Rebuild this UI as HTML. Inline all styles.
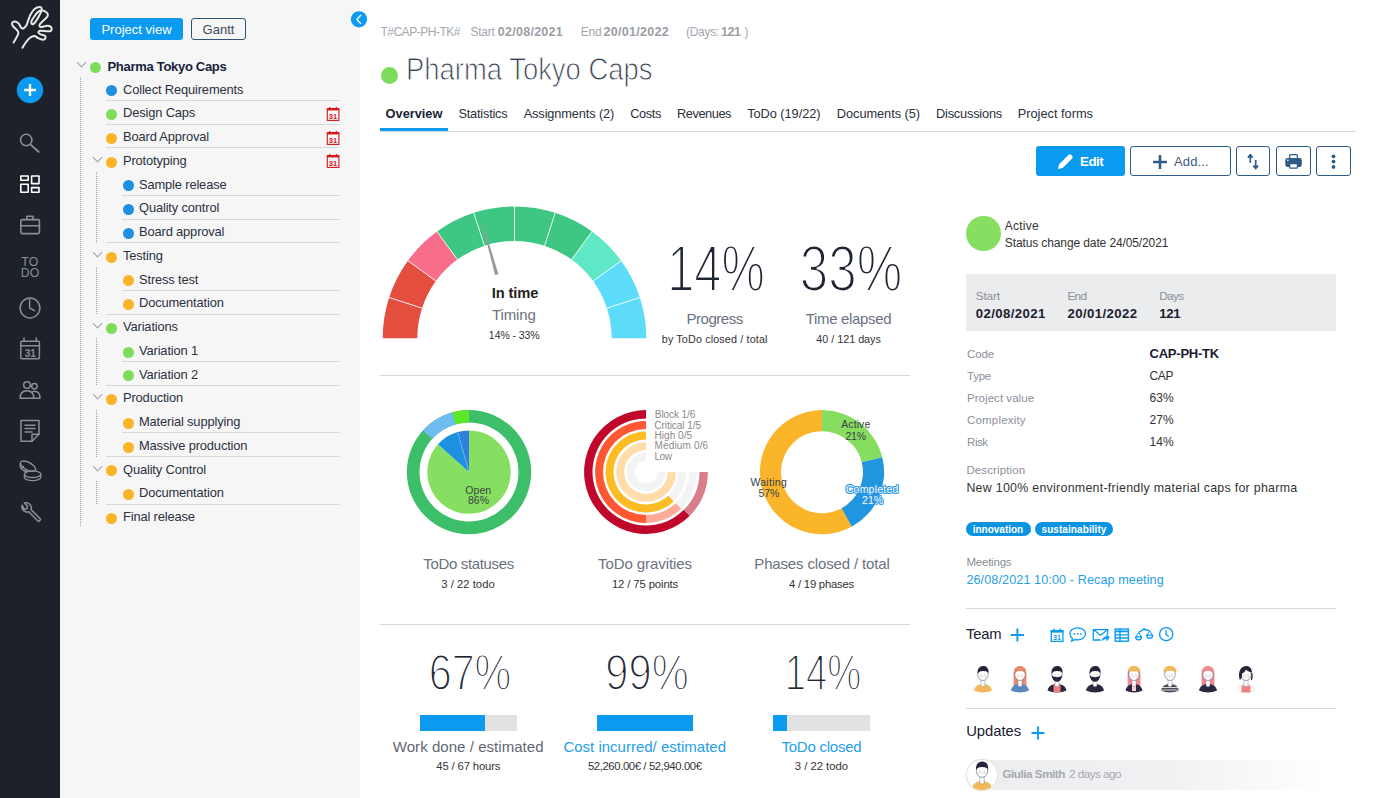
<!DOCTYPE html><html><head><meta charset="utf-8"><style>
*{box-sizing:border-box;margin:0;padding:0}
html,body{width:1376px;height:798px;overflow:hidden;background:#fff;font-family:"Liberation Sans",sans-serif;color:#333}
.a{position:absolute;white-space:nowrap;line-height:1}
#side{position:absolute;left:0;top:0;width:60px;height:798px;background:#1c212a}
#tree{position:absolute;left:60px;top:0;width:300px;height:798px;background:#f6f6f6}
.row{position:absolute;font-size:12.6px;color:#2b3140;line-height:1;white-space:nowrap}
.dot{position:absolute;width:11px;height:11px;border-radius:50%}
.g{background:#7ddc5a}.b{background:#1f8fe0}.o{background:#fbb327}
.sep{position:absolute;height:1px;background:#d9d9d9}
.chev{position:absolute;width:7px;height:7px;border-right:1.2px solid #9aa1ad;border-bottom:1.2px solid #9aa1ad;transform:rotate(45deg)}
.vdot{position:absolute;width:1px;background-image:linear-gradient(#a0a0a0 50%,transparent 50%);background-size:1px 2px}
</style></head><body><div id="side"></div><div id="tree"></div>
<div class="chev" style="left:77.5px;top:59.3px"></div>
<div class="dot g" style="left:90.3px;top:62.4px"></div>
<div class="row" style="left:107.5px;top:60.3px;font-weight:700;font-size:13px;letter-spacing:-0.3px;color:#16223a">Pharma Tokyo Caps</div>
<div class="vdot" style="left:80px;top:77px;height:450px"></div>
<div class="dot b" style="left:106.10px;top:85.30px"></div>
<div class="row" style="left:123px;top:83.58px;font-size:12.9px;letter-spacing:-0.15px">Collect Requirements</div>
<div class="sep" style="left:106px;top:99.90px;width:234px"></div>
<div class="dot g" style="left:106.10px;top:109.05px"></div>
<div class="row" style="left:123px;top:107.33px;font-size:12.9px;letter-spacing:-0.15px">Design Caps</div>
<div class="sep" style="left:106px;top:123.65px;width:234px"></div>
<svg class="a" style="left:325.5px;top:105.95px" width="14" height="16" viewBox="0 0 14 16"><rect x="1.3" y="2.6" width="11.6" height="11.8" fill="none" stroke="#d8141c" stroke-width="1.1"/><rect x="1.3" y="2.4" width="11.6" height="2" fill="#d8141c"/><rect x="3.2" y="1" width="1.2" height="2" fill="#d8141c"/><rect x="9.8" y="1" width="1.2" height="2" fill="#d8141c"/><text x="7.1" y="12.6" font-size="7.6" font-weight="700" text-anchor="middle" fill="#d8141c" font-family="Liberation Sans">31</text></svg>
<div class="dot o" style="left:106.10px;top:132.80px"></div>
<div class="row" style="left:123px;top:131.08px;font-size:12.9px;letter-spacing:-0.15px">Board Approval</div>
<div class="sep" style="left:106px;top:147.40px;width:234px"></div>
<svg class="a" style="left:325.5px;top:129.70000000000002px" width="14" height="16" viewBox="0 0 14 16"><rect x="1.3" y="2.6" width="11.6" height="11.8" fill="none" stroke="#d8141c" stroke-width="1.1"/><rect x="1.3" y="2.4" width="11.6" height="2" fill="#d8141c"/><rect x="3.2" y="1" width="1.2" height="2" fill="#d8141c"/><rect x="9.8" y="1" width="1.2" height="2" fill="#d8141c"/><text x="7.1" y="12.6" font-size="7.6" font-weight="700" text-anchor="middle" fill="#d8141c" font-family="Liberation Sans">31</text></svg>
<div class="dot o" style="left:106.10px;top:156.55px"></div>
<div class="row" style="left:123px;top:154.83px;font-size:12.9px;letter-spacing:-0.15px">Prototyping</div>
<div class="chev" style="left:93.5px;top:153.95px"></div>
<div class="vdot" style="left:96px;top:172.15px;height:71.75px"></div>
<svg class="a" style="left:325.5px;top:153.45000000000002px" width="14" height="16" viewBox="0 0 14 16"><rect x="1.3" y="2.6" width="11.6" height="11.8" fill="none" stroke="#d8141c" stroke-width="1.1"/><rect x="1.3" y="2.4" width="11.6" height="2" fill="#d8141c"/><rect x="3.2" y="1" width="1.2" height="2" fill="#d8141c"/><rect x="9.8" y="1" width="1.2" height="2" fill="#d8141c"/><text x="7.1" y="12.6" font-size="7.6" font-weight="700" text-anchor="middle" fill="#d8141c" font-family="Liberation Sans">31</text></svg>
<div class="dot b" style="left:122.60px;top:180.30px"></div>
<div class="row" style="left:139px;top:178.58px;font-size:12.9px;letter-spacing:-0.15px">Sample release</div>
<div class="sep" style="left:122px;top:194.90px;width:218px"></div>
<div class="dot b" style="left:122.60px;top:204.05px"></div>
<div class="row" style="left:139px;top:202.33px;font-size:12.9px;letter-spacing:-0.15px">Quality control</div>
<div class="sep" style="left:122px;top:218.65px;width:218px"></div>
<div class="dot b" style="left:122.60px;top:227.80px"></div>
<div class="row" style="left:139px;top:226.08px;font-size:12.9px;letter-spacing:-0.15px">Board approval</div>
<div class="sep" style="left:106px;top:242.40px;width:234px"></div>
<div class="dot o" style="left:106.10px;top:251.55px"></div>
<div class="row" style="left:123px;top:249.83px;font-size:12.9px;letter-spacing:-0.15px">Testing</div>
<div class="chev" style="left:93.5px;top:248.95px"></div>
<div class="vdot" style="left:96px;top:267.15px;height:48.00px"></div>
<div class="dot o" style="left:122.60px;top:275.30px"></div>
<div class="row" style="left:139px;top:273.58px;font-size:12.9px;letter-spacing:-0.15px">Stress test</div>
<div class="sep" style="left:122px;top:289.90px;width:218px"></div>
<div class="dot o" style="left:122.60px;top:299.05px"></div>
<div class="row" style="left:139px;top:297.33px;font-size:12.9px;letter-spacing:-0.15px">Documentation</div>
<div class="sep" style="left:106px;top:313.65px;width:234px"></div>
<div class="dot g" style="left:106.10px;top:322.80px"></div>
<div class="row" style="left:123px;top:321.08px;font-size:12.9px;letter-spacing:-0.15px">Variations</div>
<div class="chev" style="left:93.5px;top:320.20px"></div>
<div class="vdot" style="left:96px;top:338.40px;height:48.00px"></div>
<div class="dot g" style="left:122.60px;top:346.55px"></div>
<div class="row" style="left:139px;top:344.83px;font-size:12.9px;letter-spacing:-0.15px">Variation 1</div>
<div class="sep" style="left:122px;top:361.15px;width:218px"></div>
<div class="dot g" style="left:122.60px;top:370.30px"></div>
<div class="row" style="left:139px;top:368.58px;font-size:12.9px;letter-spacing:-0.15px">Variation 2</div>
<div class="sep" style="left:106px;top:384.90px;width:234px"></div>
<div class="dot o" style="left:106.10px;top:394.05px"></div>
<div class="row" style="left:123px;top:392.33px;font-size:12.9px;letter-spacing:-0.15px">Production</div>
<div class="chev" style="left:93.5px;top:391.45px"></div>
<div class="vdot" style="left:96px;top:409.65px;height:48.00px"></div>
<div class="dot o" style="left:122.60px;top:417.80px"></div>
<div class="row" style="left:139px;top:416.08px;font-size:12.9px;letter-spacing:-0.15px">Material supplying</div>
<div class="sep" style="left:122px;top:432.40px;width:218px"></div>
<div class="dot o" style="left:122.60px;top:441.55px"></div>
<div class="row" style="left:139px;top:439.83px;font-size:12.9px;letter-spacing:-0.15px">Massive production</div>
<div class="sep" style="left:106px;top:456.15px;width:234px"></div>
<div class="dot o" style="left:106.10px;top:465.30px"></div>
<div class="row" style="left:123px;top:463.58px;font-size:12.9px;letter-spacing:-0.15px">Quality Control</div>
<div class="chev" style="left:93.5px;top:462.70px"></div>
<div class="vdot" style="left:96px;top:480.90px;height:24.25px"></div>
<div class="dot o" style="left:122.60px;top:489.05px"></div>
<div class="row" style="left:139px;top:487.33px;font-size:12.9px;letter-spacing:-0.15px">Documentation</div>
<div class="sep" style="left:106px;top:503.65px;width:234px"></div>
<div class="dot o" style="left:106.10px;top:512.80px"></div>
<div class="row" style="left:123px;top:511.08px;font-size:12.9px;letter-spacing:-0.15px">Final release</div>
<div class="a" style="left:90px;top:18px;width:93px;height:22px;background:#0a9bf0;border-radius:3px;color:#fff;font-size:13px;line-height:23.6px;text-align:center">Project view</div>
<div class="a" style="left:191px;top:18px;width:55px;height:22px;border:1px solid #2e5479;border-radius:3px;color:#3f4a5c;font-size:13px;line-height:21.6px;text-align:center">Gantt</div>
<svg class="a" style="left:0;top:0" width="60" height="798" viewBox="0 0 60 798" fill="none" stroke-linecap="round" stroke-linejoin="round"><path d="M13.60,42.50 C14.37,41.08 17.57,35.98 18.20,34.00 C18.83,32.02 18.30,31.95 17.40,30.60 C16.50,29.25 13.67,27.20 12.80,25.90 C11.93,24.60 11.83,23.55 12.20,22.80 C12.57,22.05 13.93,21.30 15.00,21.40 C16.07,21.50 17.60,22.37 18.60,23.40 C19.60,24.43 20.22,26.75 21.00,27.60 C21.78,28.45 22.42,28.83 23.30,28.50 C24.18,28.17 25.45,27.05 26.30,25.60 C27.15,24.15 27.67,21.70 28.40,19.80 C29.13,17.90 29.67,16.00 30.70,14.20 C31.73,12.40 33.08,10.18 34.60,9.00 C36.12,7.82 38.62,7.17 39.80,7.10 C40.98,7.03 41.50,7.78 41.70,8.60 C41.90,9.42 41.53,10.60 41.00,12.00 C40.47,13.40 39.33,15.50 38.50,17.00 C37.67,18.50 36.75,19.90 36.00,21.00 C35.25,22.10 34.60,23.07 34.00,23.60 C33.40,24.13 32.85,24.30 32.40,24.20 C31.95,24.10 31.40,23.62 31.30,23.00 C31.20,22.38 31.35,21.50 31.80,20.50 C32.25,19.50 33.22,18.17 34.00,17.00 C34.78,15.83 35.58,14.50 36.50,13.50 C37.42,12.50 38.50,11.48 39.50,11.00 C40.50,10.52 41.53,10.50 42.50,10.60 C43.47,10.70 44.45,11.10 45.30,11.60 C46.15,12.10 47.23,12.80 47.60,13.60 C47.97,14.40 47.87,15.55 47.50,16.40 C47.13,17.25 46.22,17.87 45.40,18.70 C44.58,19.53 43.52,20.48 42.60,21.40 C41.68,22.32 40.40,23.40 39.90,24.20 C39.40,25.00 39.33,25.73 39.60,26.20 C39.87,26.67 40.25,27.07 41.50,27.00 C42.75,26.93 45.50,25.80 47.10,25.80 C48.70,25.80 50.35,26.37 51.10,27.00 C51.85,27.63 51.73,28.90 51.60,29.60 C51.47,30.30 51.08,30.92 50.30,31.20 C49.52,31.48 48.62,31.38 46.90,31.30 C45.18,31.22 41.42,30.50 40.00,30.70 C38.58,30.90 38.30,31.88 38.40,32.50 C38.50,33.12 39.50,33.87 40.60,34.40 C41.70,34.93 44.22,35.02 45.00,35.70 C45.78,36.38 45.67,37.83 45.30,38.50 C44.93,39.17 44.00,39.75 42.80,39.70 C41.60,39.65 39.48,38.82 38.10,38.20 C36.72,37.58 35.85,36.08 34.50,36.00 C33.15,35.92 31.38,36.70 30.00,37.70 C28.62,38.70 27.47,40.33 26.20,42.00 C24.93,43.67 23.03,46.75 22.40,47.70" stroke="#e8e8e8" stroke-width="2"/><circle cx="30" cy="90" r="13.2" fill="#0a9bf0" stroke="none"/><path d="M30 84v12M24 90h12" stroke="#fff" stroke-width="2.4" stroke-linecap="butt"/><circle cx="26.2" cy="140" r="5.7" stroke="#8b8e94" stroke-width="1.6"/><path d="M30.3 144.3L38.8 152" stroke="#8b8e94" stroke-width="1.8"/><g stroke="#fff" stroke-width="1.6"><rect x="20.8" y="176" width="7.4" height="4.2"/><rect x="20.8" y="184.2" width="7.4" height="8"/><rect x="31.6" y="176" width="7.4" height="7.6"/><rect x="31.6" y="187.6" width="7.4" height="4.6"/></g><g stroke="#8b8e94" stroke-width="1.6"><rect x="20.8" y="219.6" width="18.6" height="14" rx="1.5"/><path d="M20.8 225.7H39.4M26.8 219.6v-3.4h6.2v3.4"/></g><text x="29.8" y="265.8" font-size="12.3" text-anchor="middle" fill="#8b8e94" stroke="none" font-family="Liberation Sans">TO</text><text x="30" y="277.4" font-size="12.3" text-anchor="middle" fill="#8b8e94" stroke="none" font-family="Liberation Sans">DO</text><g stroke="#8b8e94" stroke-width="1.5"><circle cx="30" cy="308" r="9.9"/><path d="M29.6 299.6v8.4l5 2.6"/></g><g stroke="#8b8e94" stroke-width="1.5"><rect x="20.8" y="341.2" width="18.6" height="17.6" rx="1"/><path d="M20.8 345.8H39.4M24 338v3.5M36.2 338v3.5"/></g><text x="30.3" y="356.5" font-size="10" font-weight="700" text-anchor="middle" fill="#8b8e94" stroke="none" font-family="Liberation Sans">31</text><g stroke="#8b8e94" stroke-width="1.5"><circle cx="27" cy="385" r="3.3"/><path d="M20.2 398.2c0-5 3-7.4 6.8-7.4s6.8 2.4 6.8 7.4z"/><circle cx="34.4" cy="386.3" r="2.7"/><path d="M32.6 391.6c.6-.2 1.2-.3 1.8-.3 3.2 0 5.6 2 5.6 6.9h-6"/></g><g stroke="#8b8e94" stroke-width="1.5"><path d="M21 420.6h18v13.6l-7 7H21z"/><path d="M39 434.2h-7v7"/><path d="M25 425.2h10M25 428.6h10M25 432h7"/></g><g stroke="#8b8e94" stroke-width="1.4"><ellipse cx="28" cy="466.2" rx="8.4" ry="3.8" transform="rotate(28 28 466.2)"/><path d="M20.2 463.8c-1 3.2 2 6.4 6.6 8.6M25 471.5l1.2-1.6M22 468l1.4-1.4"/><ellipse cx="32.6" cy="474.2" rx="8.2" ry="3.3"/><path d="M24.4 474.2v3c0 1.9 3.7 3.4 8.2 3.4s8.2-1.5 8.2-3.4v-3"/></g><path d="M22.2 505.2a5.2 5.2 0 0 0 6.6 6.6l8.6 8.8a1.6 1.6 0 0 0 2.4-2.4l-8.8-8.6a5.2 5.2 0 0 0-6.6-6.6l3.2 3.2-.6 2.6-2.6.6z" stroke="#8b8e94" stroke-width="1.5"/></svg>
<svg class="a" style="left:350px;top:10px" width="18" height="18" viewBox="350 10 18 18"><circle cx="359" cy="19.35" r="8.15" fill="#0a9bf0"/><path d="M360.7 15.2L356.8 19.4 360.7 23.6" fill="none" stroke="#fff" stroke-width="1.4" stroke-linecap="round" stroke-linejoin="round"/></svg>
<div class="a" style="left:380.4px;top:25.74px;font-size:12px;color:#a3a7ae;font-weight:400;letter-spacing:-0.48px;">T#CAP-PH-TK#</div>
<div class="a" style="left:470.4px;top:25.74px;font-size:12px;color:#a3a7ae;font-weight:400;letter-spacing:-0.2px;">Start</div>
<div class="a" style="left:497.8px;top:26.12px;font-size:12.5px;color:#9a9ea5;font-weight:700;letter-spacing:0.264px;">02/08/2021</div>
<div class="a" style="left:580.7px;top:25.74px;font-size:12px;color:#a3a7ae;font-weight:400;letter-spacing:-0.2px;">End</div>
<div class="a" style="left:603.5px;top:26.12px;font-size:12.5px;color:#9a9ea5;font-weight:700;letter-spacing:0.294px;">20/01/2022</div>
<div class="a" style="left:686px;top:25.74px;font-size:12px;color:#a3a7ae;font-weight:400;letter-spacing:-0.3px;">(Days:</div>
<div class="a" style="left:721px;top:26.12px;font-size:12.5px;color:#9a9ea5;font-weight:700;letter-spacing:-0.453px;">121</div>
<div class="a" style="left:744.5px;top:25.74px;font-size:12px;color:#a3a7ae;font-weight:400;">)</div>
<div class="a" style="left:380.5px;top:66.6px;width:17.4px;height:17.4px;border-radius:50%;background:#7ddc5a"></div>
<div class="a" style="left:405.6px;top:54.06px;font-size:31px;color:#3b4252;font-weight:400;transform:scaleX(0.8849);transform-origin:0 0;-webkit-text-stroke:0.9px #fff;">Pharma Tokyo Caps</div>
<div class="a" style="left:385.6px;top:107.86px;font-size:12.8px;color:#1b2333;font-weight:700;letter-spacing:-0.015px;">Overview</div>
<div class="a" style="left:458.4px;top:107.86px;font-size:12.8px;color:#2a303c;font-weight:400;letter-spacing:-0.21px;">Statistics</div>
<div class="a" style="left:523.7px;top:107.86px;font-size:12.8px;color:#2a303c;font-weight:400;letter-spacing:-0.13px;">Assignments (2)</div>
<div class="a" style="left:630.2px;top:107.86px;font-size:12.8px;color:#2a303c;font-weight:400;letter-spacing:-0.384px;">Costs</div>
<div class="a" style="left:677px;top:107.86px;font-size:12.8px;color:#2a303c;font-weight:400;letter-spacing:-0.453px;">Revenues</div>
<div class="a" style="left:747.2px;top:107.86px;font-size:12.8px;color:#2a303c;font-weight:400;letter-spacing:-0.057px;">ToDo (19/22)</div>
<div class="a" style="left:836.8px;top:107.86px;font-size:12.8px;color:#2a303c;font-weight:400;letter-spacing:-0.056px;">Documents (5)</div>
<div class="a" style="left:936px;top:107.86px;font-size:12.8px;color:#2a303c;font-weight:400;letter-spacing:-0.207px;">Discussions</div>
<div class="a" style="left:1017.7px;top:107.86px;font-size:12.8px;color:#2a303c;font-weight:400;letter-spacing:-0.007px;">Project forms</div>
<div class="a" style="left:380px;top:131px;width:976px;height:1px;background:#d5d8dc"></div>
<div class="a" style="left:380px;top:128px;width:68px;height:3px;background:#0a9bf0"></div>
<div class="a" style="left:1036px;top:146px;width:89px;height:30px;background:#0a9bf0;border-radius:3px"></div>
<svg class="a" style="left:1057px;top:153px" width="17" height="17" viewBox="0 0 17 17"><path d="M1 16l1-4.6L11.6 1.8a1.6 1.6 0 0 1 2.3 0l1.3 1.3a1.6 1.6 0 0 1 0 2.3L5.6 15z" fill="#fff"/></svg>
<div class="a" style="left:1080px;top:154.64px;font-size:13.3px;color:#fff;font-weight:700;letter-spacing:-0.481px;">Edit</div>
<div class="a" style="left:1130.2px;top:146px;width:100.5px;height:30px;border:1px solid #2f5b88;border-radius:3px"></div>
<div class="a" style="left:1236.2px;top:146px;width:34.3px;height:30px;border:1px solid #2f5b88;border-radius:3px"></div>
<div class="a" style="left:1276.3px;top:146px;width:34.3px;height:30px;border:1px solid #2f5b88;border-radius:3px"></div>
<div class="a" style="left:1316px;top:146px;width:34.6px;height:30px;border:1px solid #2f5b88;border-radius:3px"></div>
<svg class="a" style="left:1152px;top:154px" width="16" height="16" viewBox="0 0 16 16"><path d="M8 1v14M1 8h14" stroke="#2f5b88" stroke-width="2.6"/></svg>
<div class="a" style="left:1174px;top:154.90px;font-size:13px;color:#3a5a82;font-weight:400;letter-spacing:0.139px;">Add...</div>
<svg class="a" style="left:1244px;top:150px" width="16" height="22" viewBox="1244 150 16 22"><path d="M1250.3 162.8V155.4M1247.9 157.6l2.4-2.8 2.4 2.8M1255.7 160v8M1253.3 165.6l2.4 2.8 2.4-2.8" fill="none" stroke="#2f5b88" stroke-width="1.7"/></svg>
<svg class="a" style="left:1282px;top:150px" width="22" height="22" viewBox="1282 150 22 22"><rect x="1289.6" y="154.6" width="7.8" height="5" rx="1.2" fill="#fff" stroke="#2f5b88" stroke-width="1.3"/><rect x="1285.3" y="158" width="16.5" height="9" rx="2.2" fill="#2f5b88"/><rect x="1289.6" y="163.6" width="7.8" height="4.6" rx="1" fill="#fff" stroke="#2f5b88" stroke-width="1.3"/><rect x="1287" y="159.6" width="1.6" height="1.2" fill="#fff"/></svg>
<svg class="a" style="left:1330px;top:153px" width="7" height="17" viewBox="0 0 7 17"><circle cx="3.5" cy="3.3" r="1.9" fill="#2f5b88"/><circle cx="3.5" cy="8.6" r="1.9" fill="#2f5b88"/><circle cx="3.5" cy="13.9" r="1.9" fill="#2f5b88"/></svg>
<svg class="a" style="left:0;top:0" width="1376" height="798" viewBox="0 0 1376 798"><path d="M382.70,338.20 A131.8,131.8 0 0 1 389.15,297.47 L422.06,308.16 A97.2,97.2 0 0 0 417.30,338.20Z" fill="#e34e3f" /><path d="M389.15,297.47 A131.8,131.8 0 0 1 407.87,260.73 L435.86,281.07 A97.2,97.2 0 0 0 422.06,308.16Z" fill="#e34e3f" /><path d="M407.87,260.73 A131.8,131.8 0 0 1 437.03,231.57 L457.37,259.56 A97.2,97.2 0 0 0 435.86,281.07Z" fill="#f76d8a" /><path d="M437.03,231.57 A131.8,131.8 0 0 1 473.77,212.85 L484.46,245.76 A97.2,97.2 0 0 0 457.37,259.56Z" fill="#3ec683" /><path d="M473.77,212.85 A131.8,131.8 0 0 1 514.50,206.40 L514.50,241.00 A97.2,97.2 0 0 0 484.46,245.76Z" fill="#3ec683" /><path d="M514.50,206.40 A131.8,131.8 0 0 1 555.23,212.85 L544.54,245.76 A97.2,97.2 0 0 0 514.50,241.00Z" fill="#3ec683" /><path d="M555.23,212.85 A131.8,131.8 0 0 1 591.97,231.57 L571.63,259.56 A97.2,97.2 0 0 0 544.54,245.76Z" fill="#3ec683" /><path d="M591.97,231.57 A131.8,131.8 0 0 1 621.13,260.73 L593.14,281.07 A97.2,97.2 0 0 0 571.63,259.56Z" fill="#5fe8c5" /><path d="M621.13,260.73 A131.8,131.8 0 0 1 639.85,297.47 L606.94,308.16 A97.2,97.2 0 0 0 593.14,281.07Z" fill="#5ddcf9" /><path d="M639.85,297.47 A131.8,131.8 0 0 1 646.30,338.20 L611.70,338.20 A97.2,97.2 0 0 0 606.94,308.16Z" fill="#5ddcf9" /><line x1="422.06" y1="308.16" x2="388.20" y2="297.16" stroke="#fff" stroke-width="1" stroke-opacity="0.85"/><line x1="435.86" y1="281.07" x2="407.06" y2="260.14" stroke="#fff" stroke-width="1" stroke-opacity="0.85"/><line x1="457.37" y1="259.56" x2="436.44" y2="230.76" stroke="#fff" stroke-width="1" stroke-opacity="0.85"/><line x1="484.46" y1="245.76" x2="473.46" y2="211.90" stroke="#fff" stroke-width="1" stroke-opacity="0.85"/><line x1="514.50" y1="241.00" x2="514.50" y2="205.40" stroke="#fff" stroke-width="1" stroke-opacity="0.85"/><line x1="544.54" y1="245.76" x2="555.54" y2="211.90" stroke="#fff" stroke-width="1" stroke-opacity="0.85"/><line x1="571.63" y1="259.56" x2="592.56" y2="230.76" stroke="#fff" stroke-width="1" stroke-opacity="0.85"/><line x1="593.14" y1="281.07" x2="621.94" y2="260.14" stroke="#fff" stroke-width="1" stroke-opacity="0.85"/><line x1="606.94" y1="308.16" x2="640.80" y2="297.16" stroke="#fff" stroke-width="1" stroke-opacity="0.85"/><path d="M498.48,274.15 L483.15,224.44 L482.38,224.65 L495.02,275.12Z" fill="#9a9a9a"/></svg>
<div class="a" style="left:315.1px;width:400px;text-align:center;top:286.26px;font-size:14.7px;color:#222;font-weight:700;letter-spacing:-0.106px;text-indent:-0.106px;">In time</div>
<div class="a" style="left:313.9px;width:400px;text-align:center;top:306.80px;font-size:15px;color:#6b7280;font-weight:400;letter-spacing:-0.092px;text-indent:-0.092px;">Timing</div>
<div class="a" style="left:314.29999999999995px;width:400px;text-align:center;top:330.41px;font-size:10.5px;color:#333;font-weight:400;letter-spacing:-0.064px;text-indent:-0.064px;">14% - 33%</div>
<div class="a" style="left:516.2px;width:400px;text-align:center;top:237.12px;font-size:64px;color:#1f2533;font-weight:400;transform:scaleX(0.7612);-webkit-text-stroke:2.2px #fff;">14%</div>
<div class="a" style="left:650.7px;width:400px;text-align:center;top:237.12px;font-size:64px;color:#1f2533;font-weight:400;transform:scaleX(0.8002);-webkit-text-stroke:2.2px #fff;">33%</div>
<div class="a" style="left:514.9px;width:400px;text-align:center;top:311.20px;font-size:15px;color:#6b7280;font-weight:400;letter-spacing:-0.479px;text-indent:-0.479px;">Progress</div>
<div class="a" style="left:514.6px;width:400px;text-align:center;top:334.36px;font-size:10.8px;color:#333;font-weight:400;letter-spacing:0.126px;text-indent:0.126px;">by ToDo closed / total</div>
<div class="a" style="left:648.7px;width:400px;text-align:center;top:311.20px;font-size:15px;color:#6b7280;font-weight:400;letter-spacing:-0.325px;text-indent:-0.325px;">Time elapsed</div>
<div class="a" style="left:648.6px;width:400px;text-align:center;top:334.36px;font-size:10.8px;color:#333;font-weight:400;letter-spacing:-0.019px;text-indent:-0.019px;">40 / 121 days</div>
<div class="a" style="left:380px;top:375px;width:530px;height:1px;background:#d5d8dc"></div>
<svg class="a" style="left:0;top:0" width="1376" height="798" viewBox="0 0 1376 798"><path d="M469.00,409.90 A62.2,62.2 0 0 0 469.00,534.30 L469.00,521.60 A49.5,49.5 0 0 1 469.00,422.60Z" fill="#3dbe68" /><path d="M469.00,534.30 A62.2,62.2 0 0 0 469.00,409.90 L469.00,422.60 A49.5,49.5 0 0 1 469.00,521.60Z" fill="#3dbe68" /><path d="M452.27,412.19 A62.2,62.2 0 0 0 422.85,430.40 L432.27,438.91 A49.5,49.5 0 0 1 455.69,424.42Z" fill="#6fbcf0" /><path d="M469.00,409.90 A62.2,62.2 0 0 0 452.27,412.19 L455.69,424.42 A49.5,49.5 0 0 1 469.00,422.60Z" fill="#5ee82a" /><path d="M469,472.1 L437.91,444.31 A41.7,41.7 0 1 0 469.00,430.40Z" fill="#86df60"/><path d="M469,472.1 L457.65,431.98 A41.7,41.7 0 0 0 437.91,444.31Z" fill="#1e90e0"/><path d="M469,472.1 L469.00,430.40 A41.7,41.7 0 0 0 457.65,431.98Z" fill="#2d7fe0"/><line x1="469" y1="472.1" x2="457.65" y2="431.98" stroke="#fff" stroke-width="0.6" stroke-dasharray="2 1.5" stroke-opacity="0.6"/><path d="M646.00,410.10 A61.9,61.9 0 1 0 707.90,472.00 L699.50,472.00 A53.5,53.5 0 1 1 646.00,418.50Z" fill="#f3f3f3" /><path d="M646.00,421.10 A50.9,50.9 0 1 0 696.90,472.00 L689.00,472.00 A43,43 0 1 1 646.00,429.00Z" fill="#f3f3f3" /><path d="M646.00,431.60 A40.4,40.4 0 1 0 686.40,472.00 L678.50,472.00 A32.5,32.5 0 1 1 646.00,439.50Z" fill="#f3f3f3" /><path d="M646.00,442.20 A29.8,29.8 0 1 0 675.80,472.00 L667.90,472.00 A21.9,21.9 0 1 1 646.00,450.10Z" fill="#f3f3f3" /><path d="M646.00,452.70 A19.3,19.3 0 1 0 665.30,472.00 L657.40,472.00 A11.4,11.4 0 1 1 646.00,460.60Z" fill="#f3f3f3" /><path d="M646.00,410.10 A61.9,61.9 0 1 0 689.77,515.77 L683.83,509.83 A53.5,53.5 0 1 1 646.00,418.50Z" fill="#c0062a" /><path d="M689.77,515.77 A61.9,61.9 0 0 0 707.90,472.00 L699.50,472.00 A53.5,53.5 0 0 1 683.83,509.83Z" fill="#dc7d8c" /><path d="M646.00,421.10 A50.9,50.9 0 0 0 646.00,522.90 L646.00,515.00 A43,43 0 0 1 646.00,429.00Z" fill="#ff5733" /><path d="M646.00,522.90 A50.9,50.9 0 0 0 681.10,508.86 L675.65,503.14 A43,43 0 0 1 646.00,515.00Z" fill="#ffaa99" /><path d="M646.00,431.60 A40.4,40.4 0 1 0 673.66,501.45 L668.25,495.69 A32.5,32.5 0 1 1 646.00,439.50Z" fill="#fbbd23" /><path d="M646.00,442.20 A29.8,29.8 0 1 0 675.80,472.00 L667.90,472.00 A21.9,21.9 0 1 1 646.00,450.10Z" fill="#ffdca8" /><path d="M822.00,410.10 A62.1,62.1 0 0 1 882.26,457.18 L861.78,462.28 A41,41 0 0 0 822.00,431.20Z" fill="#86dd60" /><path d="M882.26,457.18 A62.1,62.1 0 0 1 851.54,526.83 L841.50,508.27 A41,41 0 0 0 861.78,462.28Z" fill="#2196e0" /><path d="M851.54,526.83 A62.1,62.1 0 1 1 822.00,410.10 L822.00,431.20 A41,41 0 1 0 841.50,508.27Z" fill="#fbb52a" /></svg>
<div class="a" style="left:465.3px;top:484.81px;font-size:10.5px;color:#3a3f47;font-weight:400;letter-spacing:0.053px;">Open</div>
<div class="a" style="left:468px;top:495.31px;font-size:10.5px;color:#3a3f47;font-weight:400;letter-spacing:-0.005px;">86%</div>
<div class="a" style="left:654.8px;top:409.74px;font-size:10px;color:#8a8a8a;font-weight:400;letter-spacing:-0.082px;">Block 1/6</div>
<div class="a" style="left:654.3px;top:420.84px;font-size:10px;color:#8a8a8a;font-weight:400;letter-spacing:-0.046px;">Critical 1/5</div>
<div class="a" style="left:654.5px;top:430.84px;font-size:10px;color:#8a8a8a;font-weight:400;letter-spacing:0.056px;">High 0/5</div>
<div class="a" style="left:654.5px;top:440.84px;font-size:10px;color:#8a8a8a;font-weight:400;letter-spacing:0.155px;">Medium 0/6</div>
<div class="a" style="left:654.5px;top:451.54px;font-size:10px;color:#8a8a8a;font-weight:400;letter-spacing:-0.453px;">Low</div>
<div class="a" style="left:841.3px;top:419.41px;font-size:10.5px;color:#3a3f47;font-weight:400;letter-spacing:0.068px;">Active</div>
<div class="a" style="left:845.4px;top:430.51px;font-size:10.5px;color:#3a3f47;font-weight:400;letter-spacing:-0.205px;">21%</div>
<div class="a" style="left:750.4px;top:476.61px;font-size:10.5px;color:#3a3f47;font-weight:400;letter-spacing:0.296px;">Waiting</div>
<div class="a" style="left:758.6px;top:487.51px;font-size:10.5px;color:#3a3f47;font-weight:400;letter-spacing:-0.172px;">57%</div>
<div class="a" style="left:845.8px;top:483.81px;font-size:10.5px;color:#f4faff;font-weight:400;letter-spacing:0.213px;text-shadow:1px 0 0.5px #2f9ae6,-1px 0 0.5px #2f9ae6,0 1px 0.5px #2f9ae6,0 -1px 0.5px #2f9ae6,0.7px 0.7px 0.5px #2f9ae6,-0.7px -0.7px 0.5px #2f9ae6,0.7px -0.7px 0.5px #2f9ae6,-0.7px 0.7px 0.5px #2f9ae6;">Completed</div>
<div class="a" style="left:862.1px;top:494.71px;font-size:10.5px;color:#f4faff;font-weight:400;letter-spacing:-0.039px;text-shadow:1px 0 0.5px #2f9ae6,-1px 0 0.5px #2f9ae6,0 1px 0.5px #2f9ae6,0 -1px 0.5px #2f9ae6,0.7px 0.7px 0.5px #2f9ae6,-0.7px -0.7px 0.5px #2f9ae6,0.7px -0.7px 0.5px #2f9ae6,-0.7px 0.7px 0.5px #2f9ae6;">21%</div>
<div class="a" style="left:268.75px;width:400px;text-align:center;top:556.40px;font-size:15px;color:#6b7280;font-weight:400;letter-spacing:-0.35px;text-indent:-0.35px;">ToDo statuses</div>
<div class="a" style="left:268px;width:400px;text-align:center;top:578.63px;font-size:11.3px;color:#333;font-weight:400;letter-spacing:0.01px;text-indent:0.01px;">3 / 22 todo</div>
<div class="a" style="left:445px;width:400px;text-align:center;top:556.40px;font-size:15px;color:#6b7280;font-weight:400;letter-spacing:-0.075px;text-indent:-0.075px;">ToDo gravities</div>
<div class="a" style="left:445.1px;width:400px;text-align:center;top:578.63px;font-size:11.3px;color:#333;font-weight:400;letter-spacing:-0.117px;text-indent:-0.117px;">12 / 75 points</div>
<div class="a" style="left:622px;width:400px;text-align:center;top:556.40px;font-size:15px;color:#6b7280;font-weight:400;letter-spacing:-0.149px;text-indent:-0.149px;">Phases closed / total</div>
<div class="a" style="left:621.6px;width:400px;text-align:center;top:578.63px;font-size:11.3px;color:#333;font-weight:400;letter-spacing:-0.234px;text-indent:-0.234px;">4 / 19 phases</div>
<div class="a" style="left:380px;top:624px;width:530px;height:1px;background:#d5d8dc"></div>
<div class="a" style="left:269.75px;width:400px;text-align:center;top:648.10px;font-size:49.5px;color:#1f2533;font-weight:400;transform:scaleX(0.8337);-webkit-text-stroke:1.8px #fff;">67%</div>
<div class="a" style="left:446.85px;width:400px;text-align:center;top:648.40px;font-size:49.5px;color:#1f2533;font-weight:400;transform:scaleX(0.8408);-webkit-text-stroke:1.8px #fff;">99%</div>
<div class="a" style="left:622.7px;width:400px;text-align:center;top:648.40px;font-size:49.5px;color:#1f2533;font-weight:400;transform:scaleX(0.7711);-webkit-text-stroke:1.8px #fff;">14%</div>
<div class="a" style="left:419.9px;top:715px;width:97.0px;height:15.8px;background:#e2e2e2"></div>
<div class="a" style="left:419.9px;top:715px;width:65.1px;height:15.8px;background:#0a9bf0"></div>
<div class="a" style="left:597px;top:715px;width:95.9px;height:15.8px;background:#e2e2e2"></div>
<div class="a" style="left:597px;top:715px;width:95.9px;height:15.8px;background:#0a9bf0"></div>
<div class="a" style="left:772.7px;top:715px;width:97.2px;height:15.8px;background:#e2e2e2"></div>
<div class="a" style="left:772.7px;top:715px;width:14.4px;height:15.8px;background:#0a9bf0"></div>
<div class="a" style="left:268.2px;width:400px;text-align:center;top:738.80px;font-size:15px;color:#5f6673;font-weight:400;letter-spacing:0.048px;text-indent:0.048px;">Work done / estimated</div>
<div class="a" style="left:268.4px;width:400px;text-align:center;top:761.13px;font-size:11.3px;color:#333;font-weight:400;letter-spacing:-0.15px;text-indent:-0.15px;">45 / 67 hours</div>
<div class="a" style="left:444.70000000000005px;width:400px;text-align:center;top:738.80px;font-size:15px;color:#1fa0e8;font-weight:400;letter-spacing:0.001px;text-indent:0.001px;">Cost incurred/ estimated</div>
<div class="a" style="left:444.95000000000005px;width:400px;text-align:center;top:761.13px;font-size:11.3px;color:#333;font-weight:400;letter-spacing:-0.383px;text-indent:-0.383px;">52,260.00€ / 52,940.00€</div>
<div class="a" style="left:621.55px;width:400px;text-align:center;top:738.80px;font-size:15px;color:#1fa0e8;font-weight:400;letter-spacing:-0.241px;text-indent:-0.241px;">ToDo closed</div>
<div class="a" style="left:621.4px;width:400px;text-align:center;top:761.13px;font-size:11.3px;color:#333;font-weight:400;letter-spacing:-0.017px;text-indent:-0.017px;">3 / 22 todo</div>
<div class="a" style="left:966.1px;top:216.1px;width:34.8px;height:34.8px;border-radius:50%;background:#86df60"></div>
<div class="a" style="left:1004.8px;top:219.84px;font-size:12px;color:#333;font-weight:400;letter-spacing:0.219px;">Active</div>
<div class="a" style="left:1004.8px;top:236.94px;font-size:12px;color:#333;font-weight:400;letter-spacing:-0.114px;">Status change date 24/05/2021</div>
<div class="a" style="left:966px;top:274px;width:370px;height:56.5px;background:#ebecee"></div>
<div class="a" style="left:975.7px;top:290.71px;font-size:11.8px;color:#8a8f98;font-weight:400;letter-spacing:-0.124px;">Start</div>
<div class="a" style="left:975.7px;top:306.93px;font-size:13.2px;color:#1b2030;font-weight:700;letter-spacing:0.418px;">02/08/2021</div>
<div class="a" style="left:1067.4px;top:290.71px;font-size:11.8px;color:#8a8f98;font-weight:400;letter-spacing:-0.7px;">End</div>
<div class="a" style="left:1067.4px;top:306.93px;font-size:13.2px;color:#1b2030;font-weight:700;letter-spacing:0.408px;">20/01/2022</div>
<div class="a" style="left:1159.2px;top:291.21px;font-size:11.8px;color:#8a8f98;font-weight:400;letter-spacing:-0.648px;">Days</div>
<div class="a" style="left:1159.2px;top:307.03px;font-size:13.2px;color:#1b2030;font-weight:700;letter-spacing:-0.339px;">121</div>
<div class="a" style="left:967px;top:348.97px;font-size:11.5px;color:#8a8f98;font-weight:400;letter-spacing:-0.125px;">Code</div>
<div class="a" style="left:1149.5px;top:346.70px;font-size:13px;color:#1b2030;font-weight:700;letter-spacing:-0.222px;">CAP-PH-TK</div>
<div class="a" style="left:967px;top:370.97px;font-size:11.5px;color:#8a8f98;font-weight:400;letter-spacing:-0.234px;">Type</div>
<div class="a" style="left:1149.5px;top:369.74px;font-size:12px;color:#333;font-weight:400;letter-spacing:-0.329px;">CAP</div>
<div class="a" style="left:967px;top:393.07px;font-size:11.5px;color:#8a8f98;font-weight:400;letter-spacing:0.047px;">Project value</div>
<div class="a" style="left:1149.5px;top:391.84px;font-size:12px;color:#333;font-weight:400;letter-spacing:0.09px;">63%</div>
<div class="a" style="left:967px;top:415.17px;font-size:11.5px;color:#8a8f98;font-weight:400;letter-spacing:0.181px;">Complexity</div>
<div class="a" style="left:1149.5px;top:413.94px;font-size:12px;color:#333;font-weight:400;letter-spacing:0.09px;">27%</div>
<div class="a" style="left:967px;top:436.77px;font-size:11.5px;color:#8a8f98;font-weight:400;letter-spacing:-0.419px;">Risk</div>
<div class="a" style="left:1149.5px;top:435.54px;font-size:12px;color:#333;font-weight:400;letter-spacing:0.09px;">14%</div>
<div class="a" style="left:966.4px;top:464.87px;font-size:11.5px;color:#8a8f98;font-weight:400;letter-spacing:0.124px;">Description</div>
<div class="a" style="left:966.4px;top:482.00px;font-size:12.4px;color:#333;font-weight:400;letter-spacing:0.276px;">New 100% environment-friendly material caps for pharma</div>
<div class="a" style="left:966.2px;top:522.3px;width:64.7px;height:13.6px;border-radius:7px;background:#0a93e0"></div>
<div class="a" style="left:1035.3px;top:522.3px;width:77.7px;height:13.6px;border-radius:7px;background:#0a93e0"></div>
<div class="a" style="left:972.7px;top:524.74px;font-size:10px;color:#fff;font-weight:700;letter-spacing:-0.006px;">innovation</div>
<div class="a" style="left:1041.5px;top:524.74px;font-size:10px;color:#fff;font-weight:700;letter-spacing:0.078px;">sustainability</div>
<div class="a" style="left:966.4px;top:556.87px;font-size:11.5px;color:#8a8f98;font-weight:400;letter-spacing:-0.209px;">Meetings</div>
<div class="a" style="left:966.4px;top:573.93px;font-size:12.6px;color:#1fa0e8;font-weight:400;letter-spacing:0.108px;">26/08/2021 10:00 - Recap meeting</div>
<div class="a" style="left:966px;top:608px;width:370px;height:1px;background:#d5d8dc"></div>
<div class="a" style="left:966.1px;top:627.17px;font-size:14.8px;color:#1b2030;font-weight:400;letter-spacing:-0.272px;">Team</div>
<svg class="a" style="left:1010px;top:628px" width="15" height="14" viewBox="0 0 15 14"><path d="M7.4 0.5v13M0.8 7h13.2" stroke="#0a9bf0" stroke-width="1.9"/></svg>
<svg class="a" style="left:1048px;top:624px" width="130" height="20" viewBox="1048 624 130 20" fill="none" stroke="#0a9bf0" stroke-width="1.3"><rect x="1051.3" y="630.6" width="11.6" height="10.8"/><rect x="1050.7" y="630" width="12.8" height="2.6" fill="#0a9bf0" stroke="none"/><path d="M1053.9 628.4v2.4M1060.3 628.4v2.4" stroke-width="1.3"/><text x="1057.1" y="640" font-size="7.2" font-weight="700" text-anchor="middle" fill="#0a9bf0" stroke="none" font-family="Liberation Sans">31</text><path d="M1077.7 627.8c4.5 0 7.8 2.6 7.8 6s-3.3 6-7.8 6c-.9 0-1.7-.1-2.5-.3l-3.6 1.8 1-2.7c-1.7-1.1-2.7-2.8-2.7-4.8 0-3.4 3.3-6 7.8-6z" stroke-width="1.3"/><circle cx="1074.6" cy="633.8" r=".9" fill="#0a9bf0" stroke="none"/><circle cx="1077.7" cy="633.8" r=".9" fill="#0a9bf0" stroke="none"/><circle cx="1080.8" cy="633.8" r=".9" fill="#0a9bf0" stroke="none"/><path d="M1100.5 640H1093.3v-10.4h14.4v5M1093.3 629.6l7.2 5.6 7.2-5.6" stroke-width="1.3"/><path d="M1101.8 640.8c.6-2.8 2.6-4.4 5-4.4v-2l2.6 3.2-2.6 3.2v-2c-2 0-3.6.6-5 2z" fill="#0a9bf0" stroke-width="0.6"/><rect x="1115.2" y="629" width="13.2" height="12.2" stroke-width="1.4"/><path d="M1115.2 631.4h13.2" stroke-width="1.8"/><path d="M1115.2 634.8h13.2M1115.2 638h13.2" stroke-width="1.3"/><path d="M1120 629v12.2" stroke-width="1.4"/><circle cx="1144.1" cy="629" r="1.1" fill="#0a9bf0" stroke="none"/><path d="M1138.6 632.4l5.5-3.2 5.6 1.6" stroke-width="1.5"/><path d="M1138.6 632.4l-2.6 4.6M1138.6 632.4l2.6 4.6M1149.7 630.8l-2.6 4.4M1149.7 630.8l2.6 4.4" stroke-width="1"/><path d="M1135.6 636.8a3 3 0 0 0 6 0zM1146.7 635.2a3 3 0 0 0 6 0z" stroke-width="1.3"/><circle cx="1166.2" cy="634.2" r="6.6" stroke-width="1.4"/><path d="M1166 630.2v4.3l2.8 2" stroke-width="1.3"/></svg>
<svg class="a" style="left:971.7px;top:664px" width="22" height="30" viewBox="0 0 22 30"><path d="M2 26.5c.6-4 4-6.6 9-6.6s8.4 2.6 9 6.6c-2.5 1.3-5.8 1.9-9 1.9s-6.5-.6-9-1.9z" fill="#f2b95a"/><path d="M9 15h4v6.5c-.6.8-1.3 1.2-2 1.2s-1.4-.4-2-1.2z" fill="#fff" stroke="#77778a" stroke-width=".45"/><ellipse cx="11" cy="10.5" rx="5.2" ry="6" fill="#fff" stroke="#55556a" stroke-width=".55"/><path d="M8.4 10.6h1.6M12 10.6h1.6M11 11.5v2" stroke="#b8b8c4" stroke-width=".6"/><circle cx="8.6" cy="12.6" r=".9" fill="#f6c9c9"/><circle cx="13.4" cy="12.6" r=".9" fill="#f6c9c9"/><path d="M5.6 10c-.6-5 2-8 5.6-8 3.6 0 5.8 2.6 5.4 7.6-.6-1.8-2-2.6-5.6-2.6-3 0-4.6 1-5.4 3z" fill="#25243a"/></svg>
<svg class="a" style="left:1009.2px;top:664px" width="22" height="30" viewBox="0 0 22 30"><path d="M4.6 9c0-4.4 2.8-7 6.4-7s6.4 2.6 6.4 7v13H4.6z" fill="#e98a6a"/><path d="M2 26.5c.6-4 4-6.6 9-6.6s8.4 2.6 9 6.6c-2.5 1.3-5.8 1.9-9 1.9s-6.5-.6-9-1.9z" fill="#5b87bf"/><path d="M9 15h4v6.5c-.6.8-1.3 1.2-2 1.2s-1.4-.4-2-1.2z" fill="#fff" stroke="#77778a" stroke-width=".45"/><ellipse cx="11" cy="10.5" rx="5.2" ry="6" fill="#fff" stroke="#55556a" stroke-width=".55"/><path d="M8.4 10.6h1.6M12 10.6h1.6M11 11.5v2" stroke="#b8b8c4" stroke-width=".6"/><circle cx="8.6" cy="12.6" r=".9" fill="#f6c9c9"/><circle cx="13.4" cy="12.6" r=".9" fill="#f6c9c9"/><path d="M5.8 9c.6-3.6 2.6-5.4 5.2-5.4s4.6 1.8 5.2 5.4c-1.6-1.4-3-2-5.2-2s-3.6.6-5.2 2z" fill="#e98a6a"/></svg>
<svg class="a" style="left:1046.3px;top:664px" width="22" height="30" viewBox="0 0 22 30"><path d="M1.5 26.5c.6-4 4-6.6 9.5-6.6s8.9 2.6 9.5 6.6c-2.5 1.3-5.8 1.9-9.5 1.9s-7-.6-9.5-1.9z" fill="#2a2940"/><path d="M7.5 20.5h7v7.9h-7z" fill="#f08080"/><path d="M9 15h4v6.5c-.6.8-1.3 1.2-2 1.2s-1.4-.4-2-1.2z" fill="#fff" stroke="#77778a" stroke-width=".45"/><ellipse cx="11" cy="10.5" rx="5.2" ry="6" fill="#fff" stroke="#55556a" stroke-width=".55"/><path d="M8.4 10.6h1.6M12 10.6h1.6M11 11.5v2" stroke="#b8b8c4" stroke-width=".6"/><circle cx="8.6" cy="12.6" r=".9" fill="#f6c9c9"/><circle cx="13.4" cy="12.6" r=".9" fill="#f6c9c9"/><path d="M5.6 10c-.6-5 2-8 5.6-8 3.6 0 5.8 2.6 5.4 7.6-.6-1.8-2-2.6-5.6-2.6-3 0-4.6 1-5.4 3z" fill="#25243a"/><path d="M5.8 11c.4 4.4 2.4 6.8 5.2 6.8s4.8-2.4 5.2-6.8c-1 1.6-2.6 2.2-5.2 2.2s-4.2-.6-5.2-2.2z" fill="#25243a"/></svg>
<svg class="a" style="left:1084px;top:664px" width="22" height="30" viewBox="0 0 22 30"><path d="M2 26.5c.6-4 4-6.6 9-6.6s8.4 2.6 9 6.6c-2.5 1.3-5.8 1.9-9 1.9s-6.5-.6-9-1.9z" fill="#2a2940"/><path d="M9 15h4v6.5c-.6.8-1.3 1.2-2 1.2s-1.4-.4-2-1.2z" fill="#fff" stroke="#77778a" stroke-width=".45"/><ellipse cx="11" cy="10.5" rx="5.2" ry="6" fill="#fff" stroke="#55556a" stroke-width=".55"/><path d="M8.4 10.6h1.6M12 10.6h1.6M11 11.5v2" stroke="#b8b8c4" stroke-width=".6"/><circle cx="8.6" cy="12.6" r=".9" fill="#f6c9c9"/><circle cx="13.4" cy="12.6" r=".9" fill="#f6c9c9"/><path d="M5.6 10c-.6-5 2-8 5.6-8 3.6 0 5.8 2.6 5.4 7.6-.6-1.8-2-2.6-5.6-2.6-3 0-4.6 1-5.4 3z" fill="#25243a"/><path d="M5.8 11c.4 4.4 2.4 6.8 5.2 6.8s4.8-2.4 5.2-6.8c-1 1.6-2.6 2.2-5.2 2.2s-4.2-.6-5.2-2.2z" fill="#25243a"/></svg>
<svg class="a" style="left:1122.7px;top:664px" width="22" height="30" viewBox="0 0 22 30"><path d="M4.6 9c0-4.4 2.8-7 6.4-7s6.4 2.6 6.4 7v13H4.6z" fill="#f08a90"/><path d="M2.5 26.5c.6-4 4-6.6 8.5-6.6s7.9 2.6 8.5 6.6c-2.5 1.3-5.8 1.9-8.5 1.9s-6-.6-8.5-1.9z" fill="#2a2940"/><path d="M9 21h4v6h-4z" fill="#f3d5d5"/><path d="M9 15h4v6.5c-.6.8-1.3 1.2-2 1.2s-1.4-.4-2-1.2z" fill="#fff" stroke="#77778a" stroke-width=".45"/><ellipse cx="11" cy="10.5" rx="5.2" ry="6" fill="#fff" stroke="#55556a" stroke-width=".55"/><path d="M8.4 10.6h1.6M12 10.6h1.6M11 11.5v2" stroke="#b8b8c4" stroke-width=".6"/><circle cx="8.6" cy="12.6" r=".9" fill="#f6c9c9"/><circle cx="13.4" cy="12.6" r=".9" fill="#f6c9c9"/><path d="M5 7.5c.4-3.4 2.8-5.6 6-5.6s5.6 2.2 6 5.6z" fill="#f2b95a"/></svg>
<svg class="a" style="left:1158.6px;top:664px" width="22" height="30" viewBox="0 0 22 30"><path d="M2 26.5c.6-4 4-6.6 9-6.6s8.4 2.6 9 6.6c-2.5 1.3-5.8 1.9-9 1.9s-6.5-.6-9-1.9z" fill="#4a4a58"/><path d="M3 23.5h16M2.4 26h17.2" stroke="#fff" stroke-width=".8"/><path d="M9 15h4v6.5c-.6.8-1.3 1.2-2 1.2s-1.4-.4-2-1.2z" fill="#fff" stroke="#77778a" stroke-width=".45"/><ellipse cx="11" cy="10.5" rx="5.2" ry="6" fill="#fff" stroke="#55556a" stroke-width=".55"/><path d="M8.4 10.6h1.6M12 10.6h1.6M11 11.5v2" stroke="#b8b8c4" stroke-width=".6"/><circle cx="8.6" cy="12.6" r=".9" fill="#f6c9c9"/><circle cx="13.4" cy="12.6" r=".9" fill="#f6c9c9"/><path d="M4.6 9.5c-.8-5 2.5-7.8 6.4-7.8s7.2 2.8 6.4 7.8c-1-2-3-2.8-6.4-2.8s-5.4.8-6.4 2.8z" fill="#f2b95a"/></svg>
<svg class="a" style="left:1196.6px;top:664px" width="22" height="30" viewBox="0 0 22 30"><path d="M4.6 9c0-4.4 2.8-7 6.4-7s6.4 2.6 6.4 7v13H4.6z" fill="#f08a90"/><path d="M2 26.5c.6-4 4-6.6 9-6.6s8.4 2.6 9 6.6c-2.5 1.3-5.8 1.9-9 1.9s-6.5-.6-9-1.9z" fill="#2a2940"/><path d="M9 15h4v6.5c-.6.8-1.3 1.2-2 1.2s-1.4-.4-2-1.2z" fill="#fff" stroke="#77778a" stroke-width=".45"/><ellipse cx="11" cy="10.5" rx="5.2" ry="6" fill="#fff" stroke="#55556a" stroke-width=".55"/><path d="M8.4 10.6h1.6M12 10.6h1.6M11 11.5v2" stroke="#b8b8c4" stroke-width=".6"/><circle cx="8.6" cy="12.6" r=".9" fill="#f6c9c9"/><circle cx="13.4" cy="12.6" r=".9" fill="#f6c9c9"/><path d="M5.8 9c.6-3.6 2.6-5.4 5.2-5.4s4.6 1.8 5.2 5.4c-1.6-1.4-3-2-5.2-2s-3.6.6-5.2 2z" fill="#f08a90"/></svg>
<svg class="a" style="left:1235.2px;top:664px" width="22" height="30" viewBox="0 0 22 30"><path d="M2.5 26.5c.6-4 4-6.6 8.5-6.6s7.9 2.6 8.5 6.6c-2.5 1.3-5.8 1.9-8.5 1.9s-6-.6-8.5-1.9z" fill="#fff" stroke="#ccc" stroke-width=".5"/><path d="M6.5 21.5h9v6.9h-9z" fill="#f08080"/><path d="M9 15h4v6.5c-.6.8-1.3 1.2-2 1.2s-1.4-.4-2-1.2z" fill="#fff" stroke="#77778a" stroke-width=".45"/><ellipse cx="11" cy="10.5" rx="5.2" ry="6" fill="#fff" stroke="#55556a" stroke-width=".55"/><path d="M8.4 10.6h1.6M12 10.6h1.6M11 11.5v2" stroke="#b8b8c4" stroke-width=".6"/><circle cx="8.6" cy="12.6" r=".9" fill="#f6c9c9"/><circle cx="13.4" cy="12.6" r=".9" fill="#f6c9c9"/><path d="M5 16c-1.5-3-1.2-8 .3-10.5 1.4-2.3 3.5-3.5 5.8-3.5 3.4 0 5.9 2.6 5.9 6.4-2-.2-4.5-1.2-6-3-1 2.2-2.5 3.5-4 4 .4 2.5 0 4.5-2 6.6z" fill="#25243a"/><path d="M16.8 9c.5 3 .3 5-.3 7" stroke="#25243a" stroke-width="1.2"/></svg>
<div class="a" style="left:966px;top:708px;width:370px;height:1px;background:#d5d8dc"></div>
<div class="a" style="left:966.2px;top:724.47px;font-size:14.8px;color:#1b2030;font-weight:400;letter-spacing:-0.046px;">Updates</div>
<svg class="a" style="left:1030.5px;top:725.5px" width="14" height="14" viewBox="0 0 14 14"><path d="M7 0.5v13M0.5 7h13" stroke="#0a9bf0" stroke-width="1.9"/></svg>
<div class="a" style="left:966.2px;top:760px;width:364px;height:30px;border-radius:15px 0 0 15px;background:linear-gradient(90deg,#ededef 0%,#f0f1f2 55%,#fff 100%)"></div>
<div class="a" style="left:967.2px;top:760.2px;width:29.8px;height:29.8px;border-radius:50%;background:#fff;box-shadow:0 0 0 1.2px #e4e5e7;overflow:hidden"><div style="position:absolute;left:0;top:0;width:30px;height:30px;transform:scale(1.1);transform-origin:15px 30px"><svg class="a" style="left:3.8999999999999773px;top:2.099999999999909px" width="22" height="30" viewBox="0 0 22 30"><path d="M2 26.5c.6-4 4-6.6 9-6.6s8.4 2.6 9 6.6c-2.5 1.3-5.8 1.9-9 1.9s-6.5-.6-9-1.9z" fill="#f2b95a"/><path d="M9 15h4v6.5c-.6.8-1.3 1.2-2 1.2s-1.4-.4-2-1.2z" fill="#fff" stroke="#77778a" stroke-width=".45"/><ellipse cx="11" cy="10.5" rx="5.2" ry="6" fill="#fff" stroke="#55556a" stroke-width=".55"/><path d="M8.4 10.6h1.6M12 10.6h1.6M11 11.5v2" stroke="#b8b8c4" stroke-width=".6"/><circle cx="8.6" cy="12.6" r=".9" fill="#f6c9c9"/><circle cx="13.4" cy="12.6" r=".9" fill="#f6c9c9"/><path d="M5.6 10c-.6-5 2-8 5.6-8 3.6 0 5.8 2.6 5.4 7.6-.6-1.8-2-2.6-5.6-2.6-3 0-4.6 1-5.4 3z" fill="#25243a"/></svg></div></div>
<div class="a" style="left:1002.5px;top:767.70px;font-size:11.7px;color:#a5a9b0;font-weight:700;letter-spacing:-0.482px;">Giulia Smith</div>
<div class="a" style="left:1069.1px;top:767.70px;font-size:11.7px;color:#a5a9b0;font-weight:400;letter-spacing:-0.529px;">2 days ago</div></body></html>
